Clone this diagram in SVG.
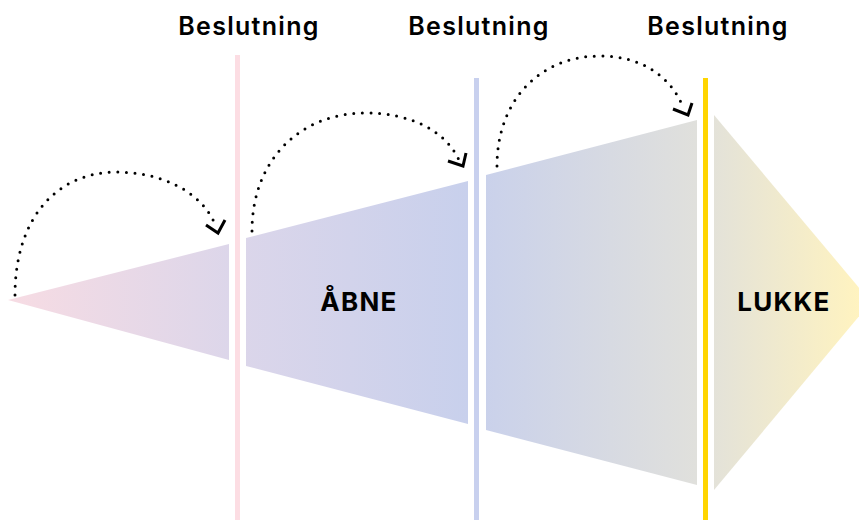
<svg xmlns="http://www.w3.org/2000/svg" width="859" height="520" viewBox="0 0 859 520">
<defs>
<linearGradient id="flow" gradientUnits="userSpaceOnUse" x1="0" y1="0" x2="859" y2="0">
<stop offset="0" stop-color="#f8dce3"/>
<stop offset="0.27" stop-color="#dcd6ea"/>
<stop offset="0.545" stop-color="#c8d0ec"/>
<stop offset="0.81" stop-color="#e0e0dc"/>
<stop offset="1" stop-color="#fff3c0"/>
</linearGradient>
</defs>
<style>
.seg{fill:url(#flow)}
.lbl{font-family:Inter,"Liberation Sans",sans-serif;font-weight:600;font-size:25px;letter-spacing:1.3px;fill:#000;text-anchor:middle}
.big{font-family:Inter,"Liberation Sans",sans-serif;font-weight:700;font-size:26px;letter-spacing:1.3px;fill:#000;text-anchor:middle}
.dot{fill:none;stroke:#000;stroke-width:3;stroke-linecap:round;stroke-dasharray:0 8.6}
.head{fill:none;stroke:#000;stroke-width:3;stroke-linejoin:miter}
</style>
<rect width="859" height="520" fill="#fff"/>
<g id="stage1"><polygon class="seg" points="8,300 229,244 229,360"/></g>
<g id="stage2"><polygon class="seg" points="246,238 468,181 468,424 246,366"/><text class="big" x="359" y="311">ÅBNE</text></g>
<g id="stage3"><polygon class="seg" points="486,175 697,120 697,485 486,430"/></g>
<g id="stage4"><polygon class="seg" points="714,115 871,302 714,490"/><text class="big" x="784" y="311">LUKKE</text></g>
<g id="decision1"><rect x="235" y="55" width="5" height="465" fill="#fcdde3"/><text class="lbl" x="249" y="35">Beslutning</text></g>
<g id="decision2"><rect x="474" y="78" width="5" height="442" fill="#c8d0ee"/><text class="lbl" x="479" y="35">Beslutning</text></g>
<g id="decision3"><rect x="703" y="78" width="5" height="442" fill="#ffd500"/><text class="lbl" x="718" y="35">Beslutning</text></g>
<g id="connectors">
<path class="dot" d="M15,295 C15,220 55,173 115,172 C160,172 200,190 215,224"/>
<polyline class="head" points="206,225 218,233 225,220"/>
<path class="dot" d="M252,231 C252,160 300,113 365,113 C410,113 445,130 459,160"/>
<polyline class="head" points="448,161 463,166 466,153"/>
<path class="dot" d="M497,166 C497,100 540,56 600,56 C640,56 670,75 683,107"/>
<polyline class="head" points="673,109 688,115 692,103"/>
</g>
</svg>
